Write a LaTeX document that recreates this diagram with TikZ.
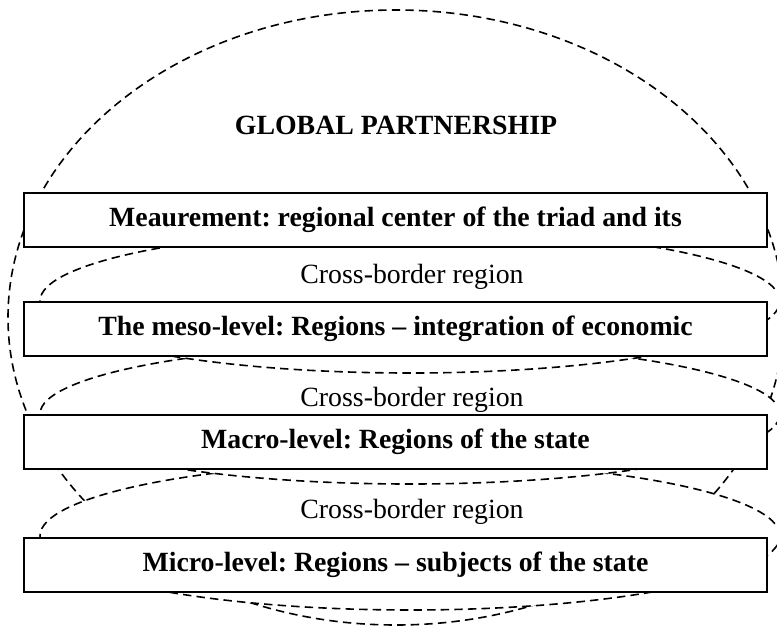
\documentclass[tikz,border=0pt]{standalone}
\usepackage{fontspec}
\setmainfont{Liberation Serif}
\usepackage{tikz}
\usetikzlibrary{
  positioning,
  shapes.geometric,
}
\frenchspacing
\tikzset{
  regionell/.style={
    ellipse, draw=black, fill=white, line width=0.8pt,
    dash pattern=on 4.2pt off 2.6pt, inner sep=0pt,
  },
  levelbox/.style={
    rectangle, draw=black, fill=white, line width=1pt, inner sep=0pt,
    minimum width=371.5pt, minimum height=27pt, align=center,
    font=\fontsize{13.9pt}{16pt}\selectfont\bfseries,
  },
  crosslabel/.style={
    inner sep=0pt, font=\fontsize{13.9pt}{16pt}\selectfont,
  },
  titlelabel/.style={
    inner sep=0pt, font=\fontsize{13.9pt}{16pt}\selectfont\bfseries,
  },
}

\begin{document}
\begin{tikzpicture}[x=0.5pt, y=-0.5pt]
\useasboundingbox (0,0) rectangle (777,627);

% outer region and the three cross-border regions (lowest first)
\node[regionell, minimum width=388pt, minimum height=307.5pt] (global) at (396,317.5) {};
\node[regionell, minimum width=370pt, minimum height=74pt] (cross3) at (410,536) {};
\node[regionell, minimum width=370pt, minimum height=70pt] (cross2) at (410,414) {};
\node[regionell, minimum width=370pt, minimum height=72pt] (cross1) at (410,301) {};

% levels
\node[levelbox] (measure) at (395.5,219.5) {Meaurement: regional center of the triad and its};
\node[levelbox] (meso)    at (395.5,328.5) {The meso-level: Regions -- integration of economic};
\node[levelbox] (macro)   at (395.5,442)   {Macro-level: Regions of the state};
\node[levelbox] (micro)   at (395.5,564.5) {Micro-level: Regions -- subjects of the state};

% labels
\node[titlelabel] (globallbl) at (396,125) {GLOBAL PARTNERSHIP};
\node[crosslabel] (cross1lbl) at (412,277) {Cross-border region};
\node[crosslabel] (cross2lbl) at (412,400) {Cross-border region};
\node[crosslabel] (cross3lbl) at (412,512) {Cross-border region};

\end{tikzpicture}
\end{document}
